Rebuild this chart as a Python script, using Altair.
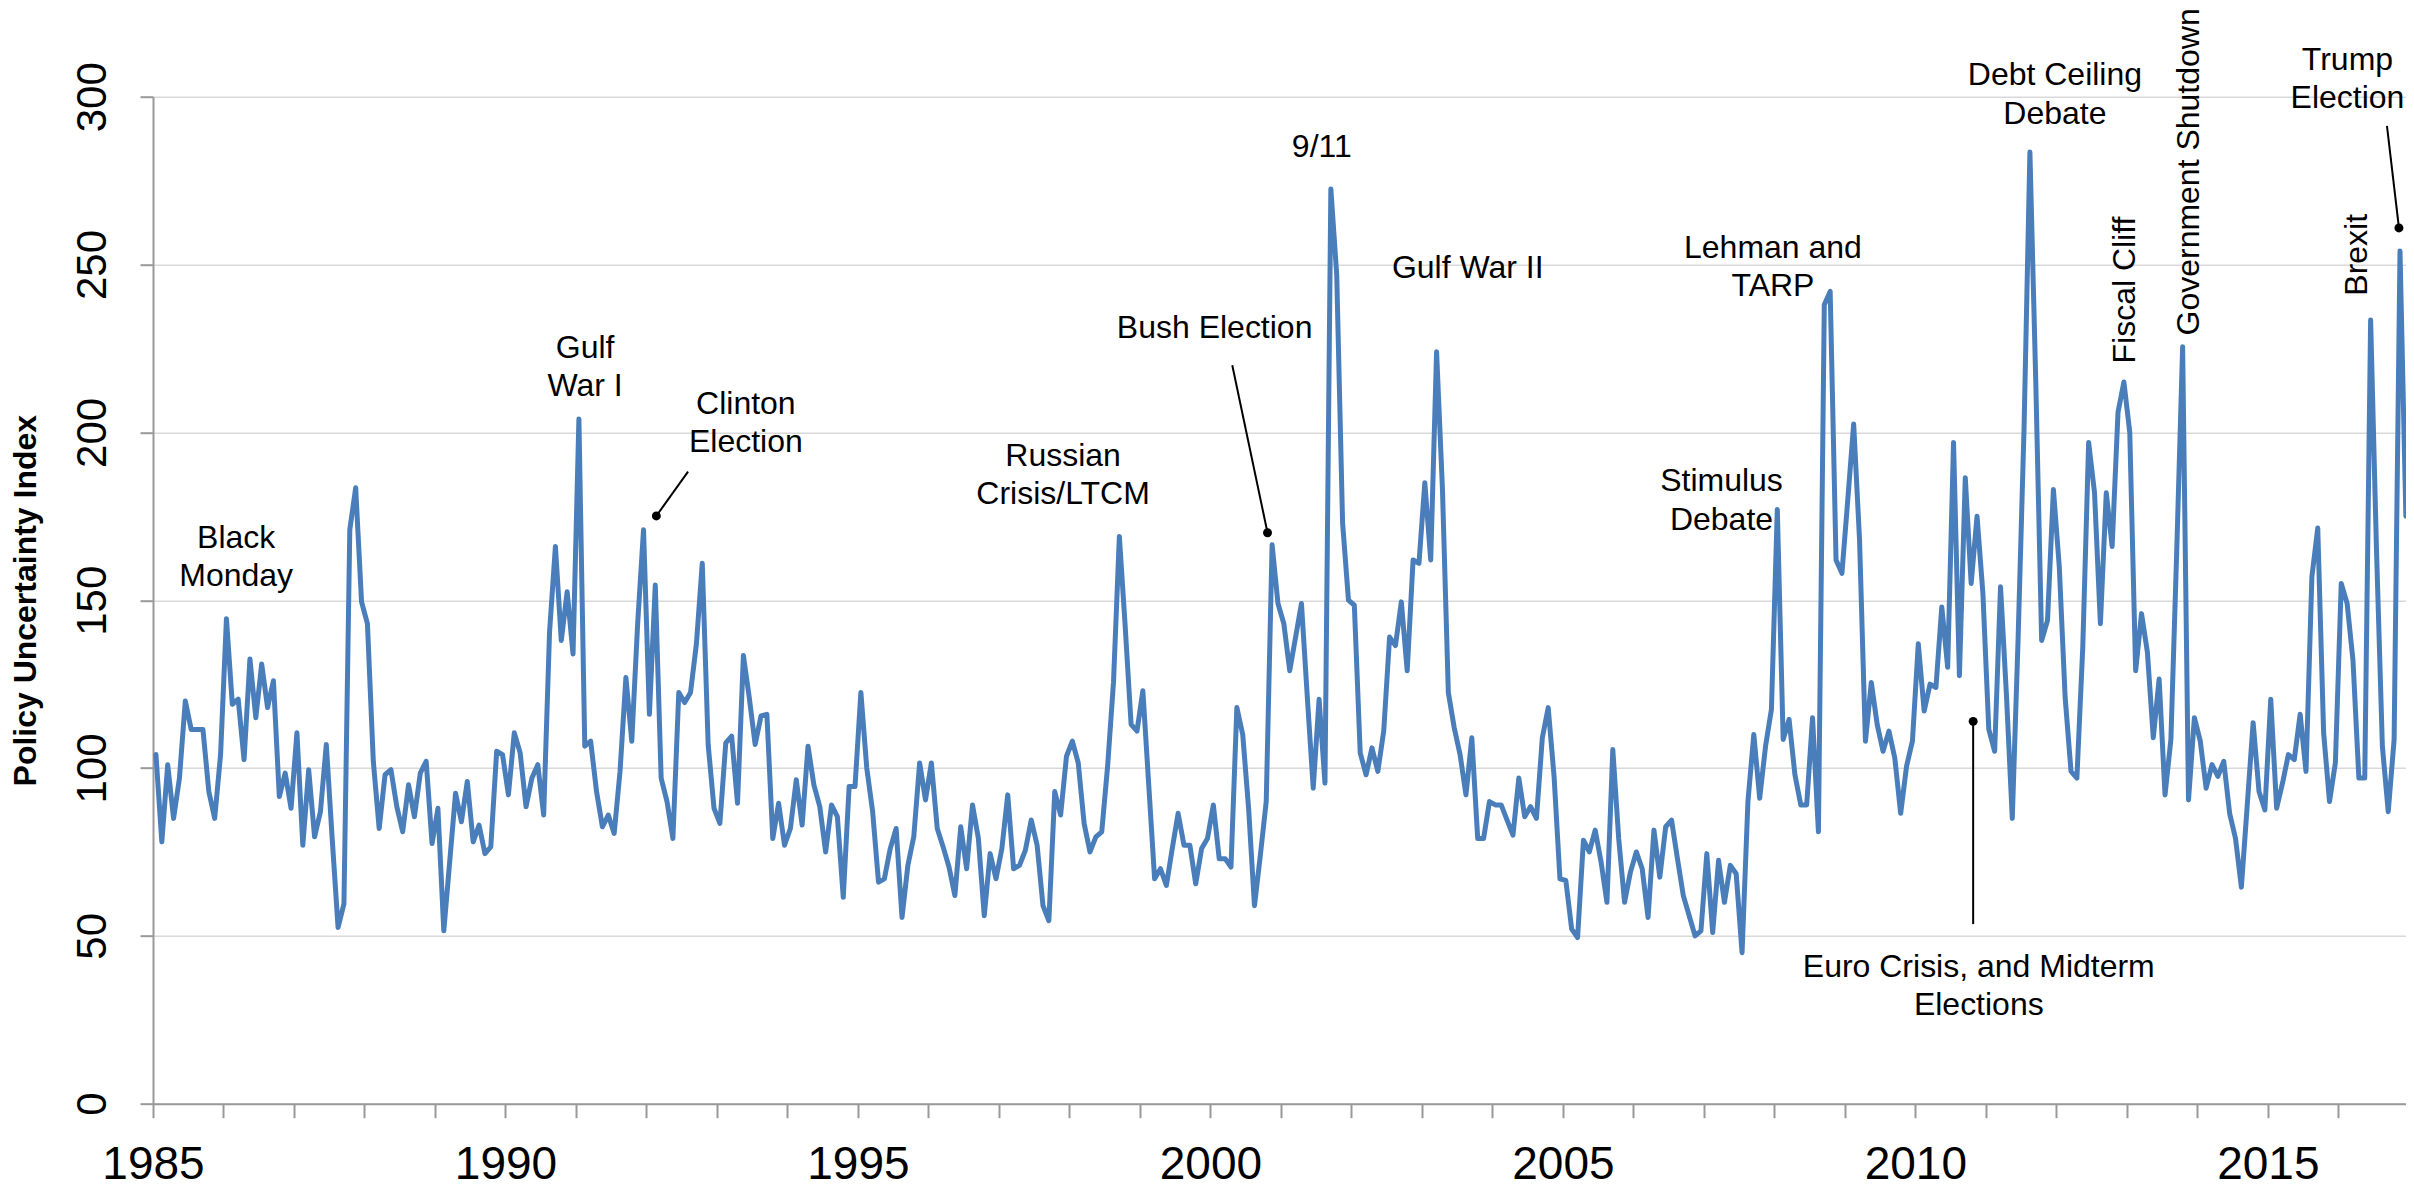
import altair as alt
import pandas as pd

# Monthly Economic Policy Uncertainty index
years = list(range(1985, 2017))
v1985 = [104, 78, 101, 85, 97, 120, 111.5, 111.5, 111.5, 93, 85, 104]
v1986 = [144.5, 119, 120.5, 102.5, 132.5, 115, 131, 118, 126, 91.5, 98.5, 88]
v1987 = [110.5, 77, 99.5, 79.5, 87, 107, 79, 52.5, 59.5, 171, 183.5, 149.5]
v1988 = [143, 102, 82, 98, 99.5, 88.5, 81, 95, 85.5, 98.5, 102, 77.5]
v1989 = [88, 51.5, 72, 92.5, 84, 96, 78, 83, 74.5, 76.5, 105, 104]
v1990 = [92, 110.5, 104.5, 88.5, 97, 101, 86, 140.5, 166, 138, 152.5, 134]
v1991 = [204, 106.5, 108, 93, 82.5, 86, 80.5, 99, 127, 108, 143, 171]
v1992 = [116, 154.5, 97, 90, 79, 122.5, 119.5, 122.5, 137, 161, 107, 88]
v1993 = [83.5, 107.5, 109.5, 89.5, 133.5, 121, 107, 115.5, 116, 79, 89.5, 77]
v1994 = [82, 96.5, 83, 106.5, 95, 88.5, 75, 89, 85.5, 61.5, 94.5, 94.5]
v1995 = [122.5, 100, 87, 66, 67, 76, 82, 55.5, 71, 79.5, 101.5, 90.5]
v1996 = [101.5, 82, 76.5, 70.5, 62, 82.5, 70, 89, 79, 56, 74.5, 67]
v1997 = [76, 92, 70, 71, 75.5, 84.5, 77, 59, 54.5, 93, 86, 103.5]
v1998 = [108, 101.5, 83.5, 75, 79.5, 81, 100.5, 125.5, 169, 142, 113, 111]
v1999 = [123, 95, 67, 70, 65, 76, 86.5, 77, 77, 65.5, 76, 79]
v2000 = [89, 73, 73, 70.5, 118, 110, 88, 59, 74, 90, 166.5, 149]
v2001 = [143, 129, 139, 149, 121, 94, 120.5, 95.5, 272.5, 247, 173, 150]
v2002 = [148.5, 104.5, 98, 106, 99, 111, 139, 136.5, 149.5, 129, 162, 161]
v2003 = [185, 162, 224, 183, 122.5, 112, 104, 92, 109, 79, 79, 90]
v2004 = [89, 89, 84.5, 80, 97, 85.5, 88.5, 85, 109, 118, 97.5, 67]
v2005 = [66.5, 52, 49.5, 78.5, 75, 81.5, 72, 60, 105.5, 79, 60, 69]
v2006 = [75, 70, 55.5, 81.5, 67.5, 82.5, 84.5, 73, 62, 56, 50, 51.5]
v2007 = [74.5, 51, 72.5, 60, 71, 68.5, 45, 90, 110, 91, 106.5, 117.5]
v2008 = [177, 108.5, 114.5, 98, 89, 89, 115, 81, 238, 242, 162, 158]
v2009 = [180, 202.5, 168, 108, 125.5, 113, 105, 111, 103, 86.5, 100.5, 108]
v2010 = [137, 117, 125, 124, 148, 130, 197, 127.5, 186.5, 155, 175, 152]
v2011 = [111.5, 105, 154, 122, 85, 139, 201, 283.5, 215, 138, 144, 183]
v2012 = [160, 121, 99, 97, 136, 197, 182, 143, 182, 166, 206, 215]
v2013 = [200, 129, 146, 134.5, 109, 126.5, 92, 108.5, 165, 225.5, 90.5, 115]
v2014 = [108, 94, 101, 97.5, 102, 86.5, 79, 64.5, 89, 113.5, 93, 87.5]
v2015 = [120.5, 88, 95.5, 104, 102.5, 116, 99, 157, 171.5, 110.5, 90, 101.5]
v2016 = [155, 149, 132, 97, 97, 233.5, 165, 106.5, 87, 108.5, 254, 175]
series = [v1985, v1986, v1987, v1988, v1989, v1990, v1991, v1992, v1993, v1994,
          v1995, v1996, v1997, v1998, v1999, v2000, v2001, v2002, v2003, v2004,
          v2005, v2006, v2007, v2008, v2009, v2010, v2011, v2012, v2013, v2014,
          v2015, v2016]

# Annotations (position in year / index units)
ann_text = [["Black", "Monday"], ["Gulf", "War I"], ["Clinton", "Election"],
            ["Russian", "Crisis/LTCM"], ["Bush Election"], ["9/11"], ["Gulf War II"],
            ["Lehman and", "TARP"], ["Stimulus", "Debate"], ["Debt Ceiling", "Debate"],
            ["Euro Crisis, and Midterm", "Elections"], ["Trump", "Election"]]
ann_x = [1986.18, 1991.13, 1993.41, 1997.91, 2000.06, 2001.58, 2003.65,
         2007.98, 2007.25, 2011.98, 2010.90, 2016.13]
ann_y = [165.6, 222.2, 205.5, 190.0, 228.2, 281.9, 245.9,
         252.0, 182.4, 303.4, 37.8, 308.0]

rot_text = ["Fiscal Cliff", "Government Shutdown", "Brexit"]
rot_x = [2013.11, 2014.02, 2016.40]
rot_y = [242.4, 277.6, 252.9]

dot_x = [1992.14, 2000.81, 2010.82, 2016.86]
dot_y = [175.1, 170.1, 113.9, 260.9]
lead_x = [1992.59, 2000.31, 2010.82, 2016.69]
lead_y = [188.3, 220.0, 53.5, 291.3]

rows = []
for yr, vals in zip(years, series):
    for m, v in enumerate(vals):
        rows.append({"t": yr + (m + 0.5) / 12.0, "v": v})
df = pd.DataFrame(rows)

ann = pd.DataFrame({"x": ann_x, "y": ann_y, "label": ann_text})
rot = pd.DataFrame({"x": rot_x, "y": rot_y, "label": rot_text})
dots = pd.DataFrame({"x": dot_x, "y": dot_y})
leads = pd.DataFrame({"x": lead_x, "y": lead_y, "x2": dot_x, "y2": dot_y})

FONT = "Liberation Sans"
GRAY = "#999999"
xscale = alt.Scale(domain=[1985, 2016.96], nice=False, zero=False)
yscale = alt.Scale(domain=[0, 300], nice=False, zero=True)

xaxis = alt.Axis(values=years, format="d",
                 labelExpr="datum.value % 5 == 0 ? datum.label : ''",
                 grid=False, tickSize=14, tickWidth=2, tickColor=GRAY,
                 domainColor=GRAY, domainWidth=2,
                 labelFont=FONT, labelFontSize=46, labelColor="black",
                 labelPadding=61, labelBaseline="alphabetic",
                 labelOverlap=False, labelFlush=False, title=None)
yaxis = alt.Axis(values=[0, 50, 100, 150, 200, 250, 300],
                 grid=True, gridColor="#d9d9d9", gridWidth=1.5,
                 tickSize=13, tickWidth=2, tickColor=GRAY,
                 domainColor=GRAY, domainWidth=2,
                 labelAngle=270, labelAlign="center", labelBaseline="alphabetic",
                 labelPadding=35, labelFont=FONT, labelFontSize=42, labelColor="black",
                 title="Policy Uncertainty Index", titleFont=FONT, titleFontSize=32,
                 titleFontWeight="bold", titleColor="black", titleAngle=270,
                 titleAlign="center", titleBaseline="alphabetic",
                 titleX=-118, titleY=503.5)

line = alt.Chart(df).mark_line(color="#4A7EBB", strokeWidth=5,
                               strokeJoin="round", strokeCap="round").encode(
    x=alt.X("t:Q", scale=xscale, axis=xaxis),
    y=alt.Y("v:Q", scale=yscale, axis=yaxis),
)

text = alt.Chart(ann).mark_text(font=FONT, fontSize=32, align="center",
                                baseline="alphabetic", lineHeight=38.5,
                                color="black").encode(
    x=alt.X("x:Q", scale=xscale), y=alt.Y("y:Q", scale=yscale), text="label")

text_rot = alt.Chart(rot).mark_text(font=FONT, fontSize=32, align="center",
                                    baseline="alphabetic", angle=270,
                                    color="black").encode(
    x=alt.X("x:Q", scale=xscale), y=alt.Y("y:Q", scale=yscale), text="label:N")

rules = alt.Chart(leads).mark_rule(color="black", strokeWidth=2).encode(
    x=alt.X("x:Q", scale=xscale), y=alt.Y("y:Q", scale=yscale),
    x2="x2:Q", y2="y2:Q")

points = alt.Chart(dots).mark_point(filled=True, color="black", size=80,
                                    opacity=1).encode(
    x=alt.X("x:Q", scale=xscale), y=alt.Y("y:Q", scale=yscale))

chart = alt.layer(line, rules, points, text, text_rot).properties(
    width=2253, height=1007,
    padding={"left": 145, "top": 88.7, "right": 0, "bottom": 88},
    autosize=alt.AutoSizeParams(type="none"),
).configure_view(stroke=None)

chart.save("out.html", embed_options={"renderer": "svg", "actions": False})
